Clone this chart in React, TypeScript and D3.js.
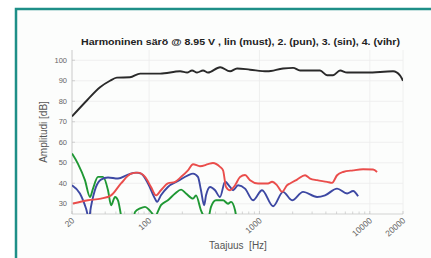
import React from "react";
import * as d3 from "d3";

const title = "Harmoninen särö @ 8.95 V , lin (must), 2. (pun), 3. (sin), 4. (vihr)";
const xLabel = "Taajuus  [Hz]";
const yLabel = "Amplitudi [dB]";
const xTicks = [20, 100, 1000, 10000, 20000];
const yTicks = [30, 40, 50, 60, 70, 80, 90, 100];

const fundamental: [number, number][] = [
  [20, 72.6], [27.4, 80.5], [35.9, 86.8], [44.2, 90], [51, 91.5], [67, 91.7], [83, 93.5],
  [126, 93.5], [191, 94.6], [221, 94], [245, 95], [272, 94], [308, 95], [342, 94],
  [440, 96.6], [541, 94.6], [627, 96], [822, 95.4], [1172, 94.6], [1636, 96], [2018, 96.3],
  [2334, 95], [3540, 95], [4100, 92.7], [4645, 92.7], [5380, 95], [6225, 94], [9460, 94],
  [16260, 94.6], [18840, 92.5], [20000, 90],
];
const h2: [number, number][] = [
  [20.4, 30.1], [27.9, 31.7], [36.6, 32.5], [45.2, 34.1], [55.6, 39.9], [68.6, 44.7],
  [79.3, 45.2], [91.8, 43.1], [104, 38.2], [115.5, 34.1], [128, 36.6], [148, 39.9],
  [172, 40.7], [195, 43.1], [225, 46.3], [250, 49.3], [289, 48.3], [342, 49.3], [379, 49.9],
  [439, 48], [468, 46.3], [498, 38.2], [541, 36.6], [601, 39], [667, 43.1], [740, 44],
  [822, 41.5], [971, 39.9], [1196, 39.9], [1301, 40.7], [1444, 39], [1603, 35.8],
  [1778, 39], [1893, 39.9], [2193, 41.8], [2590, 43.9], [2877, 42.3], [3327, 41.5],
  [4100, 40.7], [4552, 40.2], [5053, 43.9], [5728, 45.5], [7060, 46.3], [8696, 46.8],
  [10710, 46.7], [11640, 45.5],
];
const h3: [number, number][] = [
  [20, 39], [23.6, 35], [26.8, 27.7], [28.5, 23], [29.7, 28.5], [33, 38.2], [36.6, 41.8],
  [42.4, 42.8], [52.2, 42.3], [64.4, 44.2], [76, 45.2], [84.5, 44.7], [97.7, 39.9],
  [113, 32.5], [118, 30.9], [128, 34.1], [148, 38.2], [183, 41.1], [225, 43.9],
  [250, 44.7], [277, 43.1], [295, 36.6], [315, 29.3], [328, 34.1], [357, 38.2],
  [396, 36.6], [439, 33.3], [488, 40.7], [541, 38.2], [577, 36.6], [640, 39], [740, 37.4],
  [875, 31.7], [1056, 36.6], [1328, 28.8], [1636, 35.8], [1975, 31.7], [2483, 35.8],
  [3327, 33.3], [3933, 34.1], [5053, 37.4], [6226, 35], [7060, 36.2], [7836, 33.6],
];
const h4: [number, number][] = [
  [20, 54.5], [22.6, 49.6], [26.2, 41.5], [29.1, 33.3], [31, 37.4], [34.4, 43.1],
  [38.2, 43.1], [42.4, 36.6], [45.2, 29.3], [49.1, 33.3], [52.2, 31.7], [56.8, 22],
  [62, 18], [70, 18], [74.5, 26], [82.7, 27.7], [91.8, 28.5], [102, 26.5], [113, 24],
  [128, 29.3], [148, 31.7], [172, 35], [195, 36.9], [216, 35], [250, 32.5], [266, 34.1],
  [295, 26.8], [321, 23], [340, 22], [364, 28.5], [404, 31.7], [468, 31.7], [519, 30],
  [553, 30.9], [601, 26.8], [640, 18],
];

const series = [
  { data: h4, color: "#1f9834" },
  { data: h3, color: "#3d48a3" },
  { data: h2, color: "#ea4d4b" },
  { data: fundamental, color: "#2a2a2a" },
];

export default function App() {
  const W = 431, H = 258;
  const left = 72, right = 403, top = 50, bottom = 214;
  const x = d3.scaleLog().domain([20, 20000]).range([left, right]);
  const y = d3.scaleLinear().domain([25, 105]).range([bottom, top]);
  const line = d3
    .line<[number, number]>()
    .x((d) => x(d[0]))
    .y((d) => y(d[1]))
    .curve(d3.curveMonotoneX);

  const minor: number[] = [];
  for (const dec of [10, 100, 1000, 10000]) {
    for (let k = 2; k <= 9; k++) {
      const v = dec * k;
      if (v > 20 && v < 20000 && !xTicks.includes(v)) minor.push(v);
    }
  }

  return (
    <svg
      width={W}
      height={H}
      style={{ position: "absolute", left: 0, top: 0 }}
      fontFamily="Liberation Sans, Arial, sans-serif"
    >
      <rect x={0} y={0} width={W} height={H} fill="#ffffff" />
      <rect x={16} y={9} width={W} height={H} fill="#fcfdfc" stroke="#1e8f88" strokeWidth={2.5} />
      <defs>
        <clipPath id="plotclip">
          <rect x={left} y={top} width={right - left} height={bottom - top} />
        </clipPath>
      </defs>
      {/* grid */}
      {yTicks.map((t) => (
        <line key={"gy" + t} x1={left} x2={right} y1={y(t)} y2={y(t)} stroke="#ececec" strokeWidth={0.8} />
      ))}
      {xTicks.map((t) => (
        <line key={"gx" + t} x1={x(t)} x2={x(t)} y1={top} y2={bottom} stroke="#ececec" strokeWidth={0.8} />
      ))}
      {minor.map((t) => (
        <line key={"mx" + t} x1={x(t)} x2={x(t)} y1={bottom} y2={bottom - 2.5} stroke="#bbbbbb" strokeWidth={0.6} />
      ))}
      {/* axes */}
      <line x1={left} x2={left} y1={top} y2={bottom} stroke="#c8c8c8" strokeWidth={0.8} />
      <line x1={left} x2={right} y1={bottom} y2={bottom} stroke="#c8c8c8" strokeWidth={0.8} />
      {yTicks.map((t) => (
        <g key={"ty" + t}>
          <line x1={left} x2={left + 3} y1={y(t)} y2={y(t)} stroke="#bbbbbb" strokeWidth={0.6} />
          <text x={left - 5} y={y(t)} dy="0.35em" textAnchor="end" fontSize={7.5} fill="#666">
            {t}
          </text>
        </g>
      ))}
      {xTicks.map((t) => (
        <g key={"tx" + t}>
          <line x1={x(t)} x2={x(t)} y1={bottom} y2={bottom - 3} stroke="#bbbbbb" strokeWidth={0.6} />
          <text
            transform={`translate(${x(t) + 1},${bottom + 5}) rotate(-42)`}
            textAnchor="end"
            dy="0.35em"
            fontSize={8.5}
            fill="#666"
          >
            {t}
          </text>
        </g>
      ))}
      {/* series */}
      <g clipPath="url(#plotclip)">
        {series.map((s, i) => (
          <path key={i} d={line(s.data) || ""} fill="none" stroke={s.color} strokeWidth={1.9} strokeLinejoin="round" />
        ))}
      </g>
      <text
        x={81}
        y={45}
        fontSize={9.5}
        fontWeight="bold"
        fill="#222"
        textLength={319}
        lengthAdjust="spacingAndGlyphs"
      >
        {title}
      </text>
      <text
        transform={`translate(47,${(top + bottom) / 2}) rotate(-90)`}
        textAnchor="middle"
        fontSize={10}
        fill="#555"
      >
        {yLabel}
      </text>
      <text x={238} y={249} textAnchor="middle" fontSize={10} fill="#555" style={{ whiteSpace: "pre" }}>
        {xLabel}
      </text>
    </svg>
  );
}
